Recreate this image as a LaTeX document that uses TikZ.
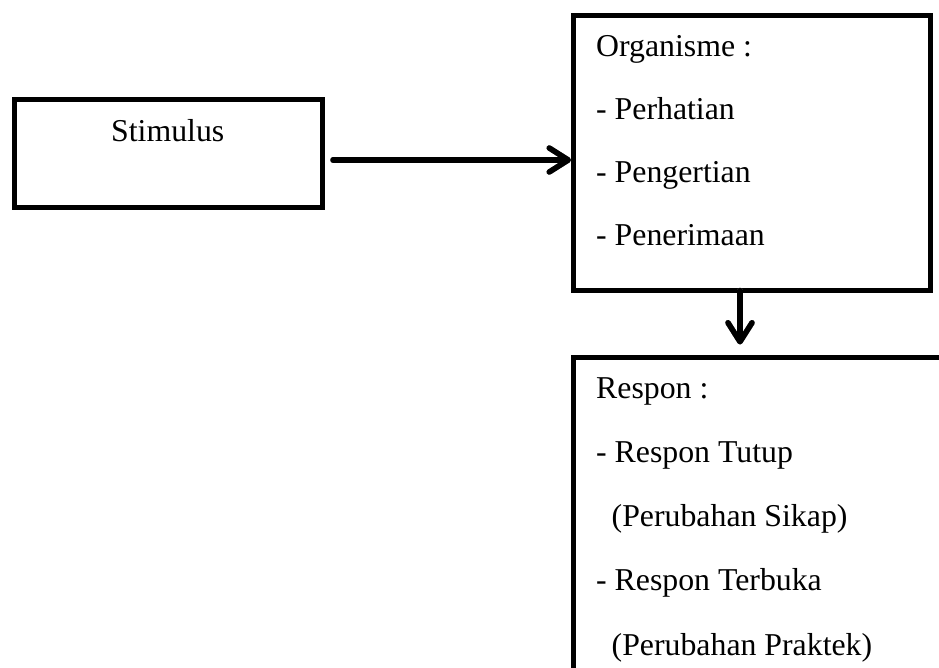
\documentclass[tikz,border=0pt]{standalone}
\usepackage{fontspec}
\setmainfont{Liberation Serif}
\usetikzlibrary{arrows.meta}
\begin{document}
\begin{tikzpicture}[x=1pt,y=-1pt,
  box/.style={draw, line width=4.8pt, inner sep=0pt, outer sep=0pt, anchor=north west},
  txt/.style={inner sep=0pt, anchor=base west, font=\fontsize{31.8}{38}\selectfont},
  arr/.style={line width=5.5pt, line cap=round,
    -{Straight Barb[length=19pt, width=24pt, line cap=round, line join=round]}},
  shadowarr/.style={arr, draw=black!50}]
\useasboundingbox (0,0) rectangle (939,668);
\clip (0,0) rectangle (939,668);
% boxes
\node[box, minimum width=308pt, minimum height=108pt] (stim) at (14.5,99.5) {};
\node[box, minimum width=357pt, minimum height=275pt] (org) at (573.5,15.5) {};
\node[box, minimum width=420pt, minimum height=380pt] (resp) at (573.5,357.5) {};
% texts
\node[txt] (tstim) at (111,142) {Stimulus};
\node[txt] (o1) at (596,57) {Organisme :};
\node[txt] (o2) at (596,120) {- Perhatian};
\node[txt] (o3) at (596,183) {- Pengertian};
\node[txt] (o4) at (596,246) {- Penerimaan};
\node[txt] (r1) at (596,398) {Respon :};
\node[txt] (r2) at (596,462) {- Respon Tutup};
\node[txt] (r3) at (596,526) {\hspace{15.5pt}(Perubahan Sikap)};
\node[txt] (r4) at (596,590) {- Respon Terbuka};
\node[txt] (r5) at (596,655) {\hspace{15.5pt}(Perubahan Praktek)};
% arrows with shadows
\begin{scope}[shift={(1.5,2)}]
\draw[shadowarr] ([xshift=10.5pt,yshift=-6.5pt]stim.east) -- ++(238,0);
\draw[shadowarr] ([xshift=-12pt]org.south) -- ++(0,54);
\end{scope}
\draw[arr] ([xshift=10.5pt,yshift=-6.5pt]stim.east) -- ++(238,0);
\draw[arr] ([xshift=-12pt]org.south) -- ++(0,54);
\end{tikzpicture}
\end{document}
